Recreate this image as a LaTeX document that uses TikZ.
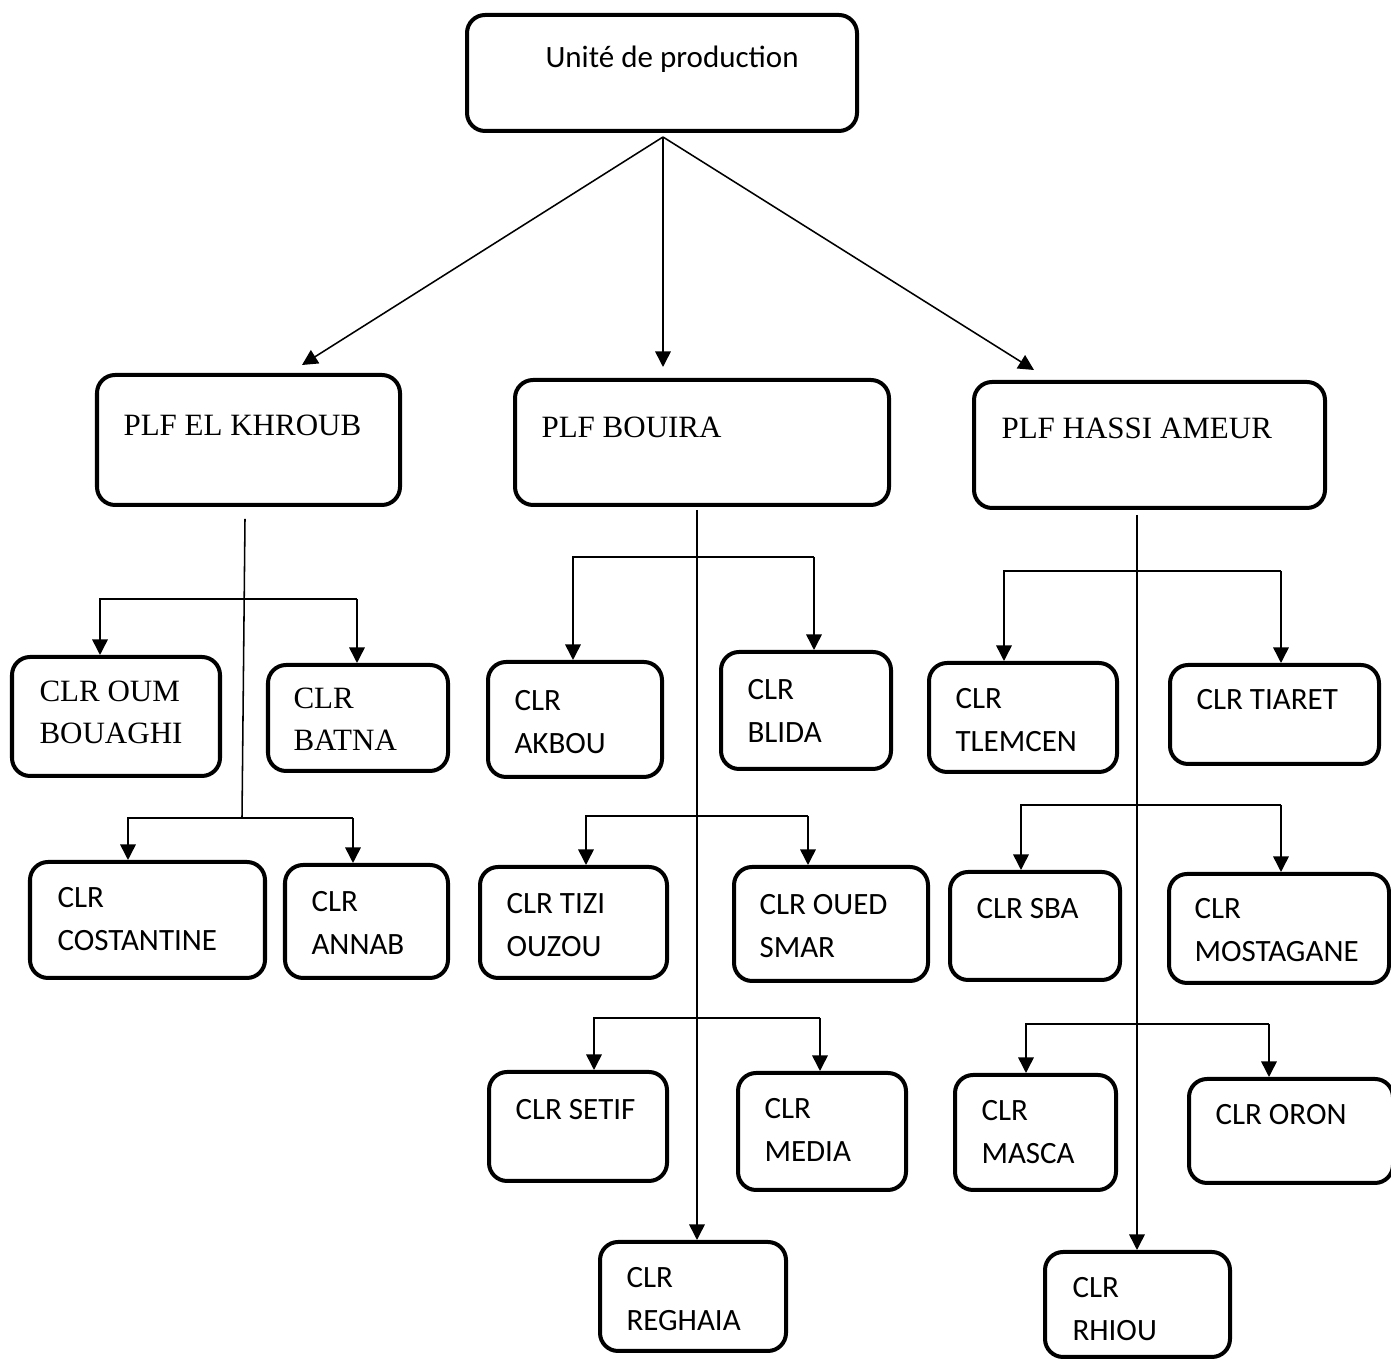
\documentclass[tikz,border=0pt]{standalone}
\usepackage{fontspec}
\setmainfont{Carlito}
\newfontfamily\tnr{Liberation Serif}
\usetikzlibrary{arrows.meta,fit}

\begin{document}
\begin{tikzpicture}[
    x=0.387pt, y=-0.387pt,
    box/.style={draw, line width=1.55pt, rounded corners=7pt, inner sep=0pt},
    txt/.style={anchor=base west, align=left, inner sep=0pt, font=\fontsize{12}{17}\selectfont},
    rom/.style={txt, font=\tnr\fontsize{12}{16.3}\selectfont},
    link/.style={line width=0.6pt},
    arr/.style={link, -{Triangle[length=6pt, width=6pt]}}
]
    \useasboundingbox (0,0) rectangle (1391,1360);

    % boxes
    \node[box, fit={(467,15) (857,131)}] (top) {};
    \node[box, fit={(97,375) (400,505)}] (khroub) {};
    \node[box, fit={(515,380) (889,505)}] (bouira) {};
    \node[box, fit={(974,382) (1325,508)}] (hassi) {};

    \node[box, fit={(12,657) (220,776)}] (oum) {};
    \node[box, fit={(268,665) (448,771)}] (batna) {};
    \node[box, fit={(30,862) (265,978)}] (costantine) {};
    \node[box, fit={(285,865) (448,978)}] (annab) {};

    \node[box, fit={(488,662) (662,777)}] (akbou) {};
    \node[box, fit={(721,652) (891,769)}] (blida) {};
    \node[box, fit={(480,867) (667,978)}] (tizi) {};
    \node[box, fit={(734,867) (928,981)}] (oued) {};
    \node[box, fit={(489,1072) (667,1181)}] (setif) {};
    \node[box, fit={(738,1073) (906,1190)}] (media) {};
    \node[box, fit={(600,1242) (786,1351)}] (reghaia) {};

    \node[box, fit={(929,663) (1117,772)}] (tlemcen) {};
    \node[box, fit={(1170,665) (1379,764)}] (tiaret) {};
    \node[box, fit={(950,872) (1120,980)}] (sba) {};
    \node[box, fit={(1169,874) (1389,983)}] (mostagane) {};
    \node[box, fit={(955,1075) (1116,1190)}] (masca) {};
    \node[box, fit={(1189,1079) (1393,1183)}] (oron) {};
    \node[box, fit={(1045,1252) (1230,1357)}] (rhiou) {};

    % texts (two-line texts sit on their last line)
    \node[txt] (top-t) at (545,68) {Unité de production};
    \node[rom] (khroub-t) at (123,436) {PLF EL KHROUB};
    \node[rom] (bouira-t) at (541,438) {PLF BOUIRA};
    \node[rom] (hassi-t) at (1001,439) {PLF HASSI AMEUR};

    \node[rom] (oum-t) at (39,744) {CLR OUM\\BOUAGHI};
    \node[rom] (batna-t) at (293,751) {CLR\\BATNA};
    \node[txt] (costantine-t) at (57,951) {CLR\\COSTANTINE};
    \node[txt] (annab-t) at (311,955) {CLR\\ANNAB};

    \node[txt] (akbou-t) at (514,754) {CLR\\AKBOU};
    \node[txt] (blida-t) at (747,743) {CLR\\BLIDA};
    \node[txt] (tizi-t) at (506,957) {CLR TIZI\\OUZOU};
    \node[txt] (oued-t) at (759,958) {CLR OUED\\SMAR};
    \node[txt] (setif-t) at (515,1120) {CLR SETIF};
    \node[txt] (media-t) at (764,1162) {CLR\\MEDIA};
    \node[txt] (reghaia-t) at (626,1331) {CLR\\REGHAIA};

    \node[txt] (tlemcen-t) at (955,752) {CLR\\TLEMCEN};
    \node[txt] (tiaret-t) at (1196,710) {CLR TIARET};
    \node[txt] (sba-t) at (976,919) {CLR SBA};
    \node[txt] (mostagane-t) at (1194,962) {CLR\\MOSTAGANE};
    \node[txt] (masca-t) at (981,1164) {CLR\\MASCA};
    \node[txt] (oron-t) at (1215,1125) {CLR ORON};
    \node[txt] (rhiou-t) at (1072,1341) {CLR\\RHIOU};

    % top level
    \coordinate (u0) at (663,137);
    \coordinate (u1) at (302,365);
    \coordinate (u2) at (663,367);
    \coordinate (u3) at (1034,370);
    \draw[arr] (u0) -- (u1);
    \draw[arr] (u0) -- (u2);
    \draw[arr] (u0) -- (u3);

    % PLF EL KHROUB
    \coordinate (k0) at (245,519);
    \coordinate (k1) at (242,818);
    \coordinate (k1l) at (100,599);
    \coordinate (k1r) at (357,599);
    \coordinate (k2l) at (128,818);
    \coordinate (k2r) at (353,818);
    \draw[link] (k0) -- (k1);
    \draw[arr] (k1r) -- (k1l) -- (oum.north -| k1l);
    \draw[arr] (k1r) -- (batna.north -| k1r);
    \draw[arr] (k2r) -- (k2l) -- (costantine.north -| k2l);
    \draw[arr] (k2r) -- (annab.north -| k2r);

    % PLF BOUIRA
    \coordinate (b0) at (697,510);
    \coordinate (b1l) at (573,557);
    \coordinate (b1r) at (814,557);
    \coordinate (b2l) at (586,816);
    \coordinate (b2r) at (808,816);
    \coordinate (b3l) at (594,1018);
    \coordinate (b3r) at (820,1018);
    \draw[arr] (b0) -- (reghaia.north -| b0);
    \draw[arr] (b1r) -- (b1l) -- (akbou.north -| b1l);
    \draw[arr] (b1r) -- (blida.north -| b1r);
    \draw[arr] (b2r) -- (b2l) -- (tizi.north -| b2l);
    \draw[arr] (b2r) -- (oued.north -| b2r);
    \draw[arr] (b3r) -- (b3l) -- (setif.north -| b3l);
    \draw[arr] (b3r) -- (media.north -| b3r);

    % PLF HASSI AMEUR
    \coordinate (h0) at (1137,515);
    \coordinate (h1l) at (1004,571);
    \coordinate (h1r) at (1281,571);
    \coordinate (h2l) at (1021,805);
    \coordinate (h2r) at (1281,805);
    \coordinate (h3l) at (1026,1024);
    \coordinate (h3r) at (1269,1024);
    \draw[arr] (h0) -- (rhiou.north -| h0);
    \draw[arr] (h1r) -- (h1l) -- (tlemcen.north -| h1l);
    \draw[arr] (h1r) -- (tiaret.north -| h1r);
    \draw[arr] (h2r) -- (h2l) -- (sba.north -| h2l);
    \draw[arr] (h2r) -- (mostagane.north -| h2r);
    \draw[arr] (h3r) -- (h3l) -- (masca.north -| h3l);
    \draw[arr] (h3r) -- (oron.north -| h3r);
\end{tikzpicture}
\end{document}
